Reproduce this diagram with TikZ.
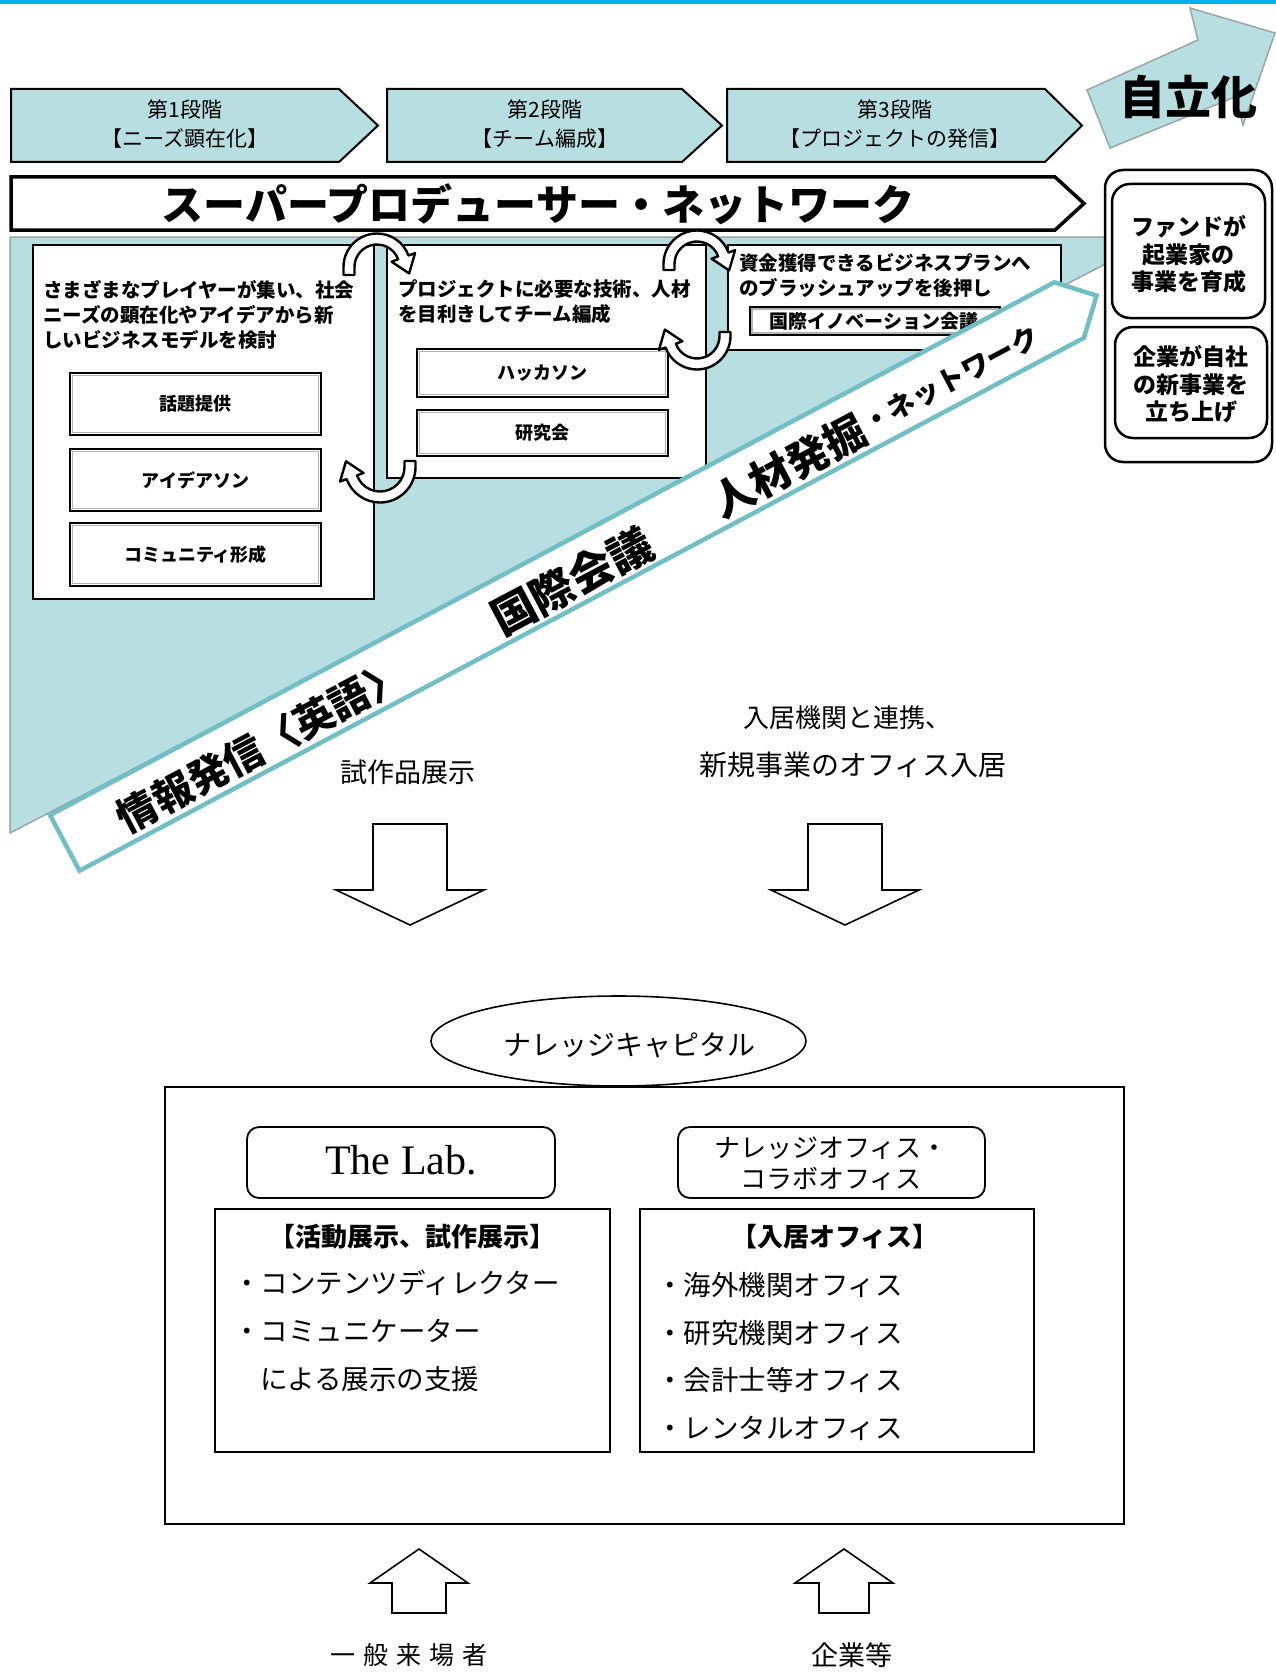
\documentclass[tikz,border=0pt]{standalone}
\usepackage{fontspec}
\setmainfont{Noto Sans CJK JP}
\newfontfamily\latinserif{Liberation Serif}
\usetikzlibrary{shapes.geometric}
\definecolor{lb}{HTML}{B7DEE1}
\definecolor{bandc}{HTML}{71BEC4}
\definecolor{topc}{HTML}{00B0F0}
\definecolor{greyb}{HTML}{9AA5A8}
\newcommand\myfs[2]{\fontsize{#1}{#2}\selectfont}
% circular arrow: #1 cx, #2 cy, #3 r, #4 start angle, #5 end angle, #6 tail length
\newcommand\circarrow[6]{%
 \pgfmathsetmacro\cArO{#3+5.5}\pgfmathsetmacro\cArI{#3-5.5}%
 \pgfmathsetmacro\cAhO{#3+12.5}\pgfmathsetmacro\cAhI{#3-12.5}%
 \draw[cirarr]
  ({#1+\cArI*cos(#4)+#6*sin(#4)},{#2+\cArI*sin(#4)-#6*cos(#4)})
  -- ({#1+\cArO*cos(#4)+#6*sin(#4)},{#2+\cArO*sin(#4)-#6*cos(#4)})
  -- ({#1+\cArO*cos(#4)},{#2+\cArO*sin(#4)})
  arc[start angle=#4, end angle=#5, radius=\cArO]
  -- ({#1+\cAhO*cos(#5)},{#2+\cAhO*sin(#5)})
  -- ({#1+#3*cos(#5)-17*sin(#5)},{#2+#3*sin(#5)+17*cos(#5)})
  -- ({#1+\cAhI*cos(#5)},{#2+\cAhI*sin(#5)})
  -- ({#1+\cArI*cos(#5)},{#2+\cArI*sin(#5)})
  arc[start angle=#5, end angle=#4, radius=\cArI]
  -- cycle;}
\begin{document}
\begin{tikzpicture}[x=1pt,y=-1pt,
  every node/.style={inner sep=0pt, outer sep=0pt},
  stagechev/.style={draw=black, line width=2pt, fill=lb},
  stagebox/.style={draw=black, line width=2.5pt, fill=white},
  subbox/.style={draw=black, line width=1.3pt, fill=white},
  subinner/.style={draw=gray!60, line width=1.2pt},
  cirarr/.style={draw=black, line width=2.4pt, fill=white, line join=round},
  rbox/.style={draw=black, line width=2.5pt, rounded corners=18pt},
  thinbox/.style={draw=black, line width=1.8pt},
  blockarr/.style={draw=black, line width=1.6pt, fill=white},
  stagetxt/.style={align=center, font=\myfs{21}{29}},
  boxtxt/.style={align=left, anchor=west, font=\bfseries\myfs{19.5}{25}},
  subtxt/.style={font=\bfseries\myfs{18}{18}},
  grptxt/.style={align=center, font=\bfseries\myfs{23}{27.5}},
  bandtxt/.style={rotate=27.9, font=\bfseries},
  lowtxt/.style={font=\myfs{27}{27}},
  listtxt/.style={anchor=west, font=\myfs{27.5}{27.5}}]
\useasboundingbox (0,0) rectangle (1276,1672);
\fill[white] (0,0) rectangle (1276,1672);
\fill[topc] (0,0) rectangle (1276,4);

% stage chevrons
\draw[stagechev] (11,89) -- (339,89) -- (378,125.5) -- (339,162) -- (11,162) -- cycle;
\draw[stagechev] (387,89) -- (682,89) -- (722,125.5) -- (682,162) -- (387,162) -- cycle;
\draw[stagechev] (727,89) -- (1045,89) -- (1082,125.5) -- (1045,162) -- (727,162) -- cycle;
\node[stagetxt] (st1) at (185,124.5) {第1段階\\【ニーズ顕在化】};
\node[stagetxt] (st2) at (545,124.5) {第2段階\\【チーム編成】};
\node[stagetxt] (st3) at (895,124.5) {第3段階\\【プロジェクトの発信】};

% super producer network
\draw[line width=3.5pt, fill=white] (11,177) -- (1055,177) -- (1084,203.5) -- (1055,230) -- (11,230) -- cycle;
\node[font=\bfseries\myfs{42}{42}] (spn) at (538,204) {スーパープロデューサー・ネットワーク};

% light blue triangle
\draw[fill=lb, draw=greyb, line width=1.5pt] (10,237) -- (1113,237) -- (1113,260) -- (10,833) -- cycle;

% stage 1 box
\draw[stagebox] (33,245) rectangle (374,599);
\node[boxtxt] (p1) at (43,314.5) {さまざまなプレイヤーが集い、社会\\ニーズの顕在化やアイデアから新\\しいビジネスモデルを検討};
\draw[subbox] (70,373) rectangle (321,435); \draw[subinner] (72.5,375.5) rectangle (318.5,432.5);
\node[subtxt] (w1) at (195.5,404) {話題提供};
\draw[subbox] (70,449) rectangle (321,511); \draw[subinner] (72.5,451.5) rectangle (318.5,508.5);
\node[subtxt] (w2) at (195.5,480) {アイデアソン};
\draw[subbox] (70,523) rectangle (321,586); \draw[subinner] (72.5,525.5) rectangle (318.5,583.5);
\node[subtxt] (w3) at (195.5,554.5) {コミュニティ形成};

% stage 2 box
\draw[stagebox] (387,245) rectangle (706,478);
\node[boxtxt] (p2) at (398,302) {プロジェクトに必要な技術、人材\\を目利きしてチーム編成};
\draw[subbox] (417,349) rectangle (668,397); \draw[subinner] (419.5,351.5) rectangle (665.5,394.5);
\node[subtxt] (w4) at (542.5,373) {ハッカソン};
\draw[subbox] (417,410) rectangle (668,456); \draw[subinner] (419.5,412.5) rectangle (665.5,453.5);
\node[subtxt] (w5) at (542.5,433) {研究会};

% stage 3 box
\draw[stagebox] (728,245) rectangle (1061,350);
\node[boxtxt] (p3) at (739,275.5) {資金獲得できるビジネスプランへ\\のブラッシュアップを後押し};
\draw[subbox] (750,307) rectangle (1000,335); \draw[subinner] (752,309) rectangle (998,333);
\node[font=\bfseries\myfs{19}{19}] (w6) at (874,321) {国際イノベーション会議};

% circular arrows
\circarrow{377}{267}{28}{180}{340}{8}
\circarrow{380}{467}{30}{0}{160}{6}
\circarrow{697}{264}{28}{180}{340}{6}
\circarrow{697}{336}{28}{0}{160}{4}

% diagonal band
\draw[draw=bandc, line width=4.5pt, fill=white, line join=miter]
  (50,815) -- (1054.4,282.3) -- (1096.6,295.6) -- (1083.9,337.9) -- (79.5,870.7) -- cycle;
\node[bandtxt, font=\bfseries\myfs{40}{40}] (b1) at (261,746) {情報発信〈英語〉};
\node[bandtxt, font=\bfseries\myfs{44}{44}] (b2) at (572,581) {国際会議};
\node[bandtxt, font=\bfseries\myfs{42}{42}] (b3a) at (789,466) {人材発掘};
\node[bandtxt, font=\bfseries\myfs{28}{28}] (b3b) at (951,380) {・ネットワーク};

% right group
\draw[rbox, fill=white] (1105,170) rectangle (1272,462);
\draw[rbox] (1112,184) rectangle (1265,318);
\draw[rbox] (1115,327) rectangle (1267,438);
\node[grptxt] (g1) at (1188.5,254.5) {ファンドが\\起業家の\\事業を育成};
\node[grptxt] (g2) at (1191,384.5) {企業が自社\\の新事業を\\立ち上げ};

% jiritsuka arrow
\draw[fill=lb, draw=greyb, line width=1.5pt, line join=miter]
  (1110,148) -- (1087,90) -- (1198,40) -- (1190,8) -- (1275,33) -- (1243,125) -- (1235,97) -- cycle;
\node[font=\bfseries\myfs{46}{46}] (jr) at (1188,97) {自立化};

% lower labels and arrows
\node[lowtxt] (shisaku) at (408,772) {試作品展示};
\node[font=\myfs{26}{26}] (nk1) at (847,718) {入居機関と連携、};
\node[font=\myfs{28}{28}] (nk2) at (853,765) {新規事業のオフィス入居};
\draw[blockarr] (373,824) -- (447,824) -- (447,890) -- (484,890) -- (410,925) -- (336,890) -- (373,890) -- cycle;
\draw[blockarr] (808,824) -- (882,824) -- (882,890) -- (919,890) -- (845,925) -- (771,890) -- (808,890) -- cycle;

% knowledge capital
\draw[thinbox] (165,1087) rectangle (1124,1524);
\node[ellipse, draw=black, line width=1.6pt, fill=white, minimum width=375pt, minimum height=90pt] (kc) at (618.5,1041) {};
\node[font=\myfs{28}{28}] (kct) at (629,1045) {ナレッジキャピタル};

\draw[thinbox, rounded corners=12pt] (247,1127) rectangle (555,1198);
\node[font=\latinserif\myfs{42}{42}] (lab) at (401,1160) {The Lab.};
\draw[thinbox, rounded corners=12pt] (678,1127) rectangle (985,1198);
\node[align=center, font=\myfs{26}{31}] (ko) at (831,1163.5) {ナレッジオフィス・\\コラボオフィス};

\draw[thinbox] (215,1209) rectangle (610,1452);
\node[font=\bfseries\myfs{26}{26}] (lt) at (412,1237) {【活動展示、試作展示】};
\node[listtxt] (l1) at (233,1283) {・コンテンツディレクター};
\node[listtxt] (l2) at (233,1331) {・コミュニケーター};
\node[listtxt] (l3) at (260,1379) {による展示の支援};

\draw[thinbox] (640,1209) rectangle (1034,1452);
\node[font=\bfseries\myfs{26}{26}] (rt) at (835,1237) {【入居オフィス】};
\node[listtxt] (r1) at (656,1285) {・海外機関オフィス};
\node[listtxt] (r2) at (656,1333) {・研究機関オフィス};
\node[listtxt] (r3) at (656,1380) {・会計士等オフィス};
\node[listtxt] (r4) at (656,1428) {・レンタルオフィス};

\draw[blockarr] (392,1613) -- (446,1613) -- (446,1583) -- (468,1583) -- (419,1549) -- (370,1583) -- (392,1583) -- cycle;
\draw[blockarr] (819,1613) -- (869,1613) -- (869,1583) -- (893,1583) -- (844,1549) -- (795,1583) -- (819,1583) -- cycle;
\node[font=\myfs{25}{25}] (ippan) at (409,1655) {一\kern8pt 般\kern8pt 来\kern8pt 場\kern8pt 者};
\node[font=\myfs{27}{27}] (kigyo) at (852,1655) {企業等};
\end{tikzpicture}
\end{document}
